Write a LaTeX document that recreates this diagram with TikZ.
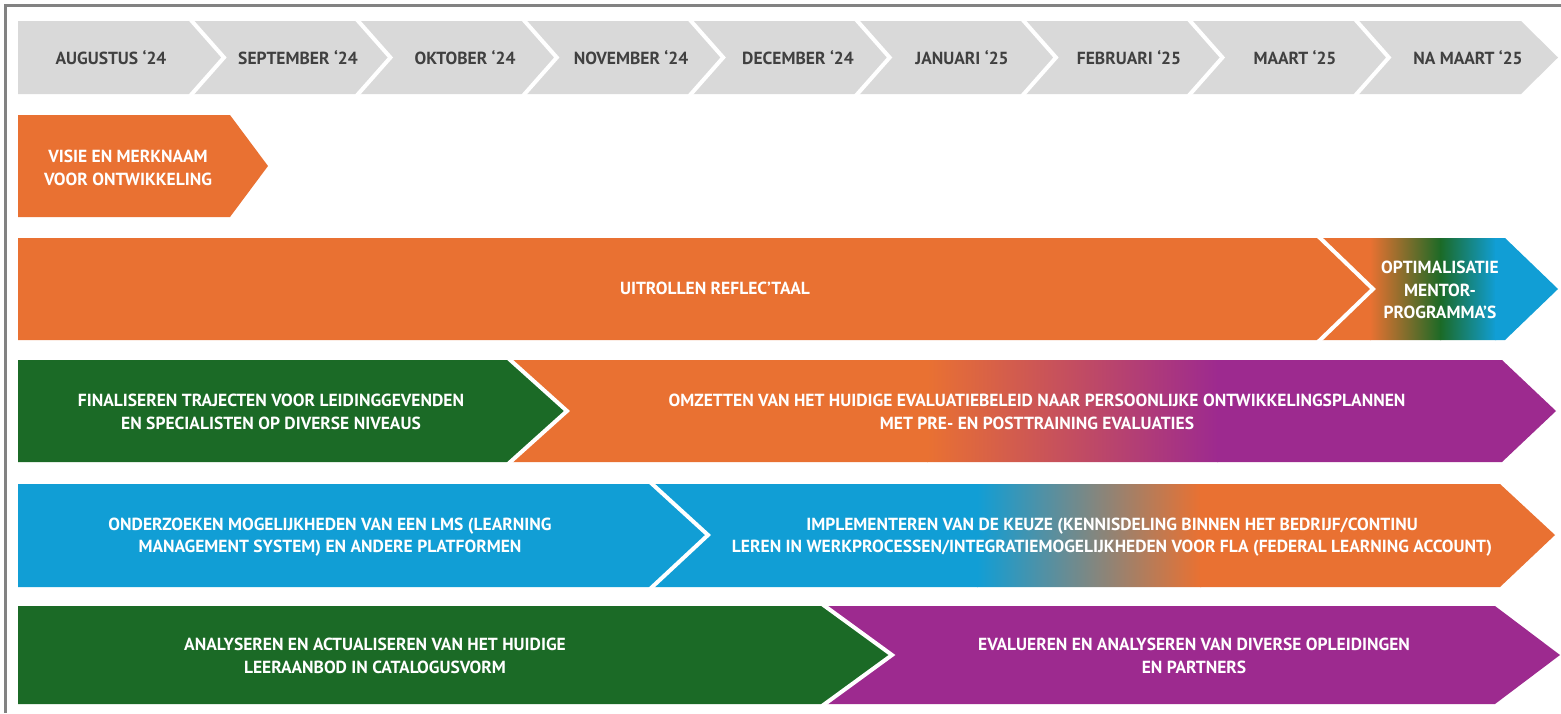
\documentclass[tikz,border=0pt]{standalone}
\usepackage{fontspec}
\setmainfont{PT Sans}
\definecolor{orangeC}{RGB}{233,113,50}
\definecolor{greenC}{RGB}{27,106,38}
\definecolor{blueC}{RGB}{17,158,213}
\definecolor{purpleC}{RGB}{157,42,143}
\definecolor{headGray}{RGB}{217,217,217}
\definecolor{headText}{RGB}{64,64,64}
\definecolor{frameC}{RGB}{130,130,130}
\tikzset{
  lbl/.style={font=\fontsize{17.5}{22.5}\selectfont\bfseries, text=white, align=center, inner sep=0pt},
  hdr/.style={lbl, text=headText},
  sepline/.style={draw=white, line width=4pt},
}
\begin{document}
\begin{tikzpicture}[x=1pt,y=-1pt]
\fill[white] (0,0) rectangle (1561,713);
\useasboundingbox (0,0) rectangle (1561,713);
% frame
\fill[frameC] (3.5,3.5) rectangle (1561,6.5);
\fill[frameC] (3.5,3.5) rectangle (6.5,713);

% header
\fill[headGray] (18,21) -- (1521,21) -- (1558,57.5) -- (1521,94) -- (18,94) -- cycle;
\foreach \k in {0,...,7}{
  \pgfmathsetmacro{\sx}{190+166.4*\k}
  \draw[sepline] (\sx,19) -- ({\sx+34},57.5) -- (\sx,96);
}
\node[hdr] (m1) at (111,58) {AUGUSTUS ‘24};
\node[hdr] (m2) at (298,58) {SEPTEMBER ‘24};
\node[hdr] (m3) at (465,58) {OKTOBER ‘24};
\node[hdr] (m4) at (631,58) {NOVEMBER ‘24};
\node[hdr] (m5) at (798,58) {DECEMBER ‘24};
\node[hdr] (m6) at (962,58) {JANUARI ‘25};
\node[hdr] (m7) at (1129,58) {FEBRUARI ‘25};
\node[hdr] (m8) at (1295,58) {MAART ‘25};
\node[hdr] (m9) at (1468,58) {NA MAART ‘25};

% row 2
\fill[orangeC] (18,115) -- (230,115) -- (268,166) -- (230,217) -- (18,217) -- cycle;
\node[lbl] (visie) at (128,168) {VISIE EN MERKNAAM\\VOOR ONTWIKKELING};

% row 3
\begin{scope}
  \clip (1318,238) -- (1505,238) -- (1558,289) -- (1505,340) -- (1318,340) -- (1373,289) -- cycle;
  \fill[orangeC] (1310,230) rectangle (1371,350);
  \shade[left color=orangeC, right color=greenC] (1370,230) rectangle (1441,350);
  \shade[left color=greenC, right color=blueC] (1440,230) rectangle (1496,350);
  \fill[blueC] (1495,230) rectangle (1565,350);
\end{scope}
\fill[orangeC] (18,238) -- (1318,238) -- (1373,289) -- (1318,340) -- (18,340) -- cycle;
\draw[sepline] (1318,236) -- (1373,289) -- (1318,342);
\node[lbl] (uit) at (715,288) {UITROLLEN REFLEC’TAAL};
\node[lbl] (opt) at (1440,290) {OPTIMALISATIE\\MENTOR-\\PROGRAMMA’S};

% row 4
\begin{scope}
  \clip (508,360) -- (1502,360) -- (1556,411) -- (1502,462) -- (508,462) -- (567,411) -- cycle;
  \fill[orangeC] (500,350) rectangle (928,470);
  \shade[left color=orangeC, right color=purpleC] (927,350) rectangle (1218,470);
  \fill[purpleC] (1217,350) rectangle (1565,470);
\end{scope}
\fill[greenC] (18,360) -- (508,360) -- (567,411) -- (508,462) -- (18,462) -- cycle;
\draw[sepline] (508,358) -- (567,411) -- (508,464);
\node[lbl] (fin) at (271,412) {FINALISEREN TRAJECTEN VOOR LEIDINGGEVENDEN\\EN SPECIALISTEN OP DIVERSE NIVEAUS};
\node[lbl] (omz) at (1037,412) {OMZETTEN VAN HET HUIDIGE EVALUATIEBELEID NAAR PERSOONLIJKE ONTWIKKELINGSPLANNEN\\MET PRE- EN POSTTRAINING EVALUATIES};

% row 5
\begin{scope}
  \clip (650,484) -- (1500,484) -- (1555,535) -- (1500,587) -- (650,587) -- (708,535) -- cycle;
  \fill[blueC] (640,475) rectangle (978,595);
  \shade[left color=blueC, right color=orangeC] (977,475) rectangle (1201,595);
  \fill[orangeC] (1200,475) rectangle (1565,595);
\end{scope}
\fill[blueC] (18,484) -- (650,484) -- (708,535) -- (650,587) -- (18,587) -- cycle;
\draw[sepline] (650,482) -- (708,535) -- (650,589);
\node[lbl] (ond) at (330,537) {ONDERZOEKEN MOGELIJKHEDEN VAN EEN LMS (LEARNING\\MANAGEMENT SYSTEM) EN ANDERE PLATFORMEN};
\node[lbl] (imp) at (1112,537) {IMPLEMENTEREN VAN DE KEUZE (KENNISDELING BINNEN HET BEDRIJF/CONTINU\\LEREN IN WERKPROCESSEN/INTEGRATIEMOGELIJKHEDEN VOOR FLA (FEDERAL LEARNING ACCOUNT)};

% row 6
\fill[purpleC] (822,606) -- (1495,606) -- (1560,655) -- (1495,704) -- (822,704) -- (892,655) -- cycle;
\fill[greenC] (18,606) -- (822,606) -- (892,655) -- (822,704) -- (18,704) -- cycle;
\draw[sepline] (822,604) -- (892,655) -- (822,706);
\node[lbl] (ana) at (375,656) {ANALYSEREN EN ACTUALISEREN VAN HET HUIDIGE\\LEERAANBOD IN CATALOGUSVORM};
\node[lbl] (eva) at (1194,656) {EVALUEREN EN ANALYSEREN VAN DIVERSE OPLEIDINGEN\\EN PARTNERS};
\end{tikzpicture}
\end{document}
